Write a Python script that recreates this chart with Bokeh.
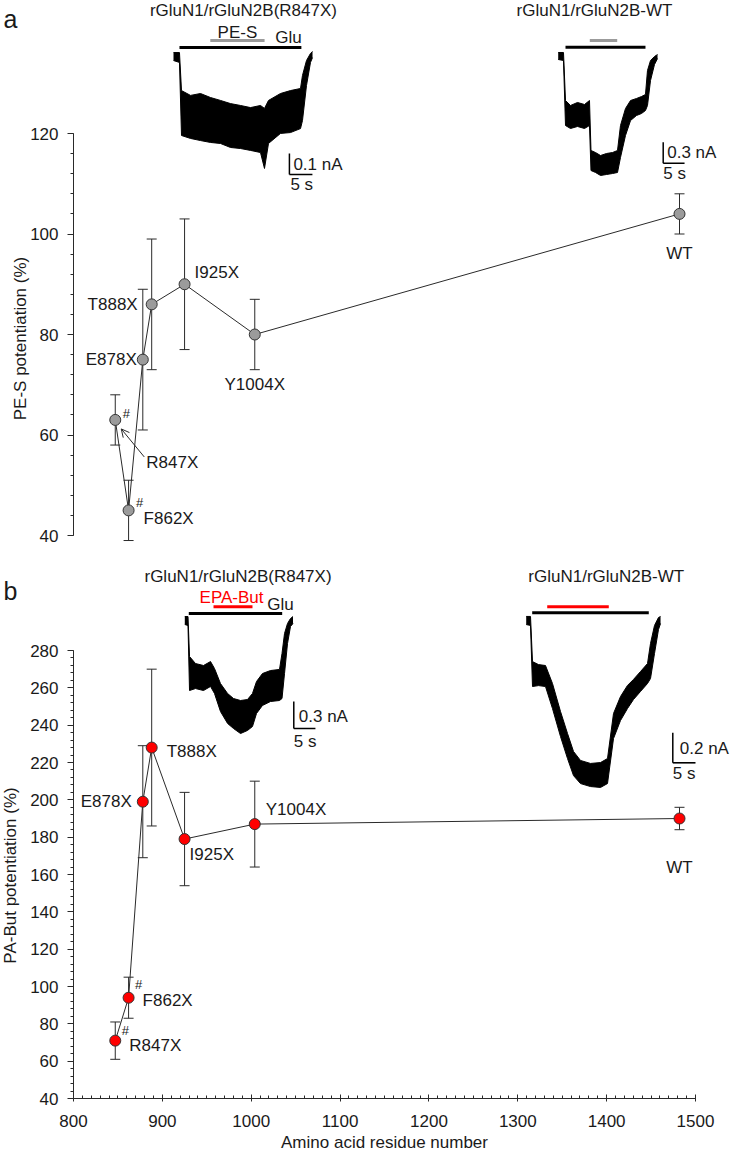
import math
from bokeh.plotting import figure
from bokeh.layouts import column
from bokeh.models import (Range1d, SingleIntervalTicker, Whisker, TeeHead, Arrow,
                          OpenHead, ColumnDataSource)
from bokeh.core.properties import value
from bokeh.embed import file_html
from bokeh.resources import INLINE

FONT = "Liberation Sans"

# ---------------- data ----------------
residue = [847, 862, 878, 888, 925, 1004, 1482]
names = ["R847X", "F862X", "E878X", "T888X", "I925X", "Y1004X", "WT"]
pes_mean = [63, 45, 75, 86, 90, 80, 104]
pes_sem = [5, 6, 14, 13, 13, 7, 4]
pab_mean = [71, 94, 199, 228, 179, 187, 190]
pab_sem = [10, 11, 30, 42, 25, 23, 6]
signif = ["#", "#", "", "", "", "", ""]

y_ticks_a = [40, 60, 80, 100, 120]
y_ticks_b = [40, 60, 80, 100, 120, 140, 160, 180, 200, 220, 240, 260, 280]
x_ticks = [800, 900, 1000, 1100, 1200, 1300, 1400, 1500]

# current traces (envelope of the noisy recordings): time in s, current in nA
a1_t = [0, 1.30, 1.74, 3.70, 5.87, 8.04, 10.22, 12.39, 14.57, 16.74, 18.91, 19.78, 20.65,
        23.26, 25.43, 27.61, 28.04, 28.91, 29.78, 30.22]
a1_top = [0.014, 0.014, -0.167, -0.190, -0.181, -0.200, -0.214, -0.229, -0.238, -0.248,
          -0.238, -0.252, -0.214, -0.181, -0.167, -0.157, -0.095, -0.024, 0.010, 0.019]
a1_bot = [-0.024, -0.033, -0.381, -0.395, -0.405, -0.414, -0.419, -0.438, -0.443, -0.452,
          -0.462, -0.538, -0.419, -0.371, -0.367, -0.348, -0.310, -0.143, -0.033, -0.010]

a2_t = [0, 1.24, 1.71, 2.88, 4.52, 6.16, 7.33, 7.68, 8.74, 9.91, 11.31, 12.72, 13.89, 14.59,
        15.76, 16.94, 18.34, 19.51, 20.44, 20.91, 21.62, 22.55, 23.26]
a2_top = [0.043, 0.043, -0.643, -0.714, -0.671, -0.700, -0.643, -1.357, -1.386, -1.429,
          -1.400, -1.386, -1.357, -1.000, -0.757, -0.643, -0.614, -0.586, -0.557, -0.214,
          -0.071, -0.014, 0.014]
a2_bot = [-0.057, -0.071, -1.000, -1.043, -1.014, -1.043, -1.000, -1.643, -1.671, -1.714,
          -1.700, -1.686, -1.671, -1.457, -1.143, -0.929, -0.857, -0.829, -0.786, -0.714,
          -0.357, -0.129, -0.043]

b1_t = [0, 0.74, 1.09, 2.47, 4.32, 5.94, 6.86, 8.24, 9.88, 11.25, 12.87, 14.48, 15.63, 16.56,
        17.94, 19.79, 21.87, 22.45, 23.03, 23.72, 24.41, 24.99]
b1_top = [0.044, 0.044, -0.400, -0.478, -0.500, -0.456, -0.533, -0.700, -0.811, -0.867,
          -0.889, -0.878, -0.811, -0.678, -0.589, -0.556, -0.544, -0.367, -0.144, -0.033,
          0.022, 0.044]
b1_bot = [-0.044, -0.056, -0.778, -0.756, -0.778, -0.733, -0.811, -1.011, -1.144, -1.200,
          -1.256, -1.222, -1.178, -1.033, -0.944, -0.900, -0.889, -0.867, -0.589, -0.256,
          -0.067, -0.033]

b2_t = [0, 0.95, 1.39, 2.71, 4.25, 5.79, 7.56, 9.10, 10.42, 11.96, 14.16, 16.37, 17.91,
        19.23, 20.77, 22.31, 23.63, 25.18, 26.72, 27.38, 28.26, 29.14, 29.59]
b2_top = [0.025, 0.025, -0.276, -0.296, -0.302, -0.422, -0.609, -0.755, -0.875, -0.935,
          -0.955, -0.949, -0.922, -0.622, -0.509, -0.435, -0.395, -0.342, -0.289, -0.155,
          -0.035, 0.018, 0.025]
b2_bot = [-0.029, -0.035, -0.442, -0.436, -0.442, -0.589, -0.776, -0.922, -1.036, -1.089,
          -1.109, -1.115, -1.089, -0.789, -0.669, -0.589, -0.529, -0.475, -0.422, -0.389,
          -0.222, -0.062, -0.022]

# application periods (s) and scale bars
a1_glu, a1_drug = (1.30, 27.8), (8.0, 19.8)
a2_glu, a2_drug = (1.71, 20.44), (7.4, 13.82)
b1_glu, b1_drug = (0.92, 22.49), (6.63, 15.63)
b2_glu, b2_drug = (1.32, 27.0), (4.63, 18.19)
scale_nA = [0.1, 0.3, 0.3, 0.2]
scale_s = 5

# ---------------- layout constants ----------------
W = 730
AX_X = 73               # px of residue 800 (y axis position)
PX_X = 0.88857          # px per residue
X0 = 800 - AX_X / PX_X
X1 = X0 + W / PX_X
HA, HB = 545, 607
A_PPU = 5.025           # px per % (panel a)
B_PPU = 1.8667          # px per % (panel b)
A_Y120 = 133            # px of y=120 in panel a
B_Y280 = 105            # px of y=280 in panel b
TXT = "#1a1a1a"
LINE = "#2a2a2a"


def px_a(fx, fy):
    return 800 + (fx - AX_X) / PX_X, 120 - (fy - A_Y120) / A_PPU


def px_b(fx, fy):
    return 800 + (fx - AX_X) / PX_X, 280 - (fy - B_Y280) / B_PPU


def style_axis(ax, bounds, interval, minor, fixed):
    ax.bounds = bounds
    ax.fixed_location = fixed
    ax.ticker = SingleIntervalTicker(interval=interval, num_minor_ticks=minor)
    ax.major_label_text_font = FONT
    ax.major_label_text_font_size = "17px"
    ax.major_label_text_color = TXT
    ax.axis_line_color = LINE
    ax.major_tick_line_color = LINE
    ax.minor_tick_line_color = LINE


def style_y(p, bounds):
    ax = p.yaxis[0]
    style_axis(ax, bounds, 20, 5, 800)
    ax.major_tick_out = 6
    ax.major_tick_in = 0
    ax.minor_tick_out = 3
    ax.minor_tick_in = 0
    ax.major_label_standoff = 9


def make_fig(height, yr, xaxis):
    p = figure(width=W, height=height, x_range=Range1d(X0, X1), y_range=Range1d(*yr),
               output_backend="svg", toolbar_location=None,
               x_axis_location="below" if xaxis else None, min_border=0,
               min_border_left=0, min_border_right=0, min_border_top=0, min_border_bottom=0)
    p.outline_line_color = None
    p.grid.visible = False
    p.background_fill_color = "white"
    return p


def inset(p, name, x0, y0, pps, ppn, h):
    t0 = -x0 / pps
    p.extra_x_ranges[name] = Range1d(t0, t0 + W / pps)
    p.extra_y_ranges[name] = Range1d(-(h - y0) / ppn, y0 / ppn)


def txt(p, xy, s, size="17px", align="center", baseline="middle", angle=0.0, color=TXT,
        **kw):
    p.text(x=[xy[0]], y=[xy[1]], text=[s], angle=angle, text_align=align,
           text_baseline=baseline, text_font=value(FONT), text_font_size=size,
           text_color=color, **kw)


def draw_trace(p, name, t, top, bot, glu, glu_y, drug, drug_y, drug_color,
               corner, amp, amp_off, s_off):
    kw = dict(x_range_name=name, y_range_name=name)
    p.varea(x=t, y1=bot, y2=top, fill_color="black", **kw)
    p.line(x=t, y=top, line_color="black", line_width=1, **kw)
    p.line(x=t, y=bot, line_color="black", line_width=1, **kw)
    p.segment(x0=[glu[0]], y0=[glu_y], x1=[glu[1]], y1=[glu_y], line_color="black",
              line_width=3, **kw)
    p.segment(x0=[drug[0]], y0=[drug_y], x1=[drug[1]], y1=[drug_y], line_color=drug_color,
              line_width=3, **kw)
    cx, cy = corner
    p.segment(x0=[cx, cx], y0=[cy, cy], x1=[cx, cx + scale_s], y1=[cy + amp, cy],
              line_color="black", line_width=1.5, **kw)
    p.text(x=[cx], y=[cy], text=[f"{amp} nA"], x_offset=amp_off[0], y_offset=amp_off[1],
           text_align="left", text_baseline="middle", text_font=value(FONT),
           text_font_size="17px", text_color=TXT, **kw)
    p.text(x=[cx], y=[cy], text=[f"{scale_s} s"], x_offset=s_off[0], y_offset=s_off[1],
           text_align="left", text_baseline="middle", text_font=value(FONT),
           text_font_size="17px", text_color=TXT, **kw)


def inset_text(p, name, x, y, s, color=TXT):
    txt(p, (x, y), s, color=color, x_range_name=name, y_range_name=name)


def data_layer(p, mean, sem, fill, offsets, aligns, hash_off):
    src = ColumnDataSource(dict(x=residue, y=mean,
                                upper=[m + s for m, s in zip(mean, sem)],
                                lower=[m - s for m, s in zip(mean, sem)]))
    w = Whisker(source=src, base="x", upper="upper", lower="lower", line_color=LINE,
                line_width=1,
                upper_head=TeeHead(size=10, line_color=LINE, line_width=1),
                lower_head=TeeHead(size=10, line_color=LINE, line_width=1))
    p.add_layout(w)
    p.line(x=residue, y=mean, line_color=LINE, line_width=1)
    p.scatter(x=residue, y=mean, size=11, fill_color=fill, line_color="#333333",
              line_width=1)
    for al in ("left", "right", "center"):
        idx = [i for i, a in enumerate(aligns) if a == al]
        if not idx:
            continue
        p.text(x=[residue[i] for i in idx], y=[mean[i] for i in idx],
               text=[names[i] for i in idx],
               x_offset=[offsets[i][0] for i in idx], y_offset=[offsets[i][1] for i in idx],
               text_align=al, text_baseline="middle", text_font=value(FONT),
               text_font_size="17px", text_color=TXT)
    idx = [i for i, s in enumerate(signif) if s]
    p.text(x=[residue[i] for i in idx], y=[mean[i] for i in idx],
           text=[signif[i] for i in idx],
           x_offset=[hash_off[i][0] for i in idx], y_offset=[hash_off[i][1] for i in idx],
           text_align="center", text_baseline="middle", text_font=value(FONT),
           text_font_size="13px", text_color=TXT)


# ================= panel a =================
pa = make_fig(HA, (120 - (HA - A_Y120) / A_PPU, 120 + A_Y120 / A_PPU), False)
style_y(pa, (40, 120))

data_layer(pa, pes_mean, pes_sem, "#9b9b9b",
           offsets=[(31, 43), (15, 8), (-6, 0), (-14, 0), (10, -12), (0, 50), (0, 40)],
           aligns=["left", "left", "right", "right", "left", "center", "center"],
           hash_off=[(11, -6), (11, -8), (0, 0), (0, 0), (0, 0), (0, 0), (0, 0)])
pa.add_layout(Arrow(end=OpenHead(size=8, line_width=1, line_color=LINE),
                    x_start=residue[0] + 29 / PX_X, y_start=pes_mean[0] - 37 / A_PPU,
                    x_end=residue[0] + 6 / PX_X, y_end=pes_mean[0] - 9 / A_PPU,
                    line_width=1, line_color=LINE))

inset(pa, "a1", 173, 55, 4.6, 210, HA)
draw_trace(pa, "a1", a1_t, a1_top, a1_bot, a1_glu, 0.038, a1_drug, 0.071, "#9b9b9b",
           (25.2, -0.567), scale_nA[0], (4, -10.5), (1, 10))
inset_text(pa, "a1", 15.2, 0.214, "rGluN1/rGluN2B(R847X)")
inset_text(pa, "a1", 13.9, 0.110, "PE-S")
inset_text(pa, "a1", 25.0, 0.086, "Glu")

inset(pa, "a2", 557.7, 55, 4.27, 70, HA)
draw_trace(pa, "a2", a2_t, a2_top, a2_bot, a2_glu, 0.119, a2_drug, 0.214, "#9b9b9b",
           (24.59, -1.539), scale_nA[1], (4, -11), (0, 10))
inset_text(pa, "a2", 8.5, 0.643, "rGluN1/rGluN2B-WT")

txt(pa, px_a(19.5, 338), "PE-S potentiation (%)", angle=math.pi / 2)
txt(pa, px_a(3, 18), "a", size="25px", align="left", baseline="alphabetic")

# ================= panel b =================
pb = make_fig(HB, (280 - (HB - B_Y280) / B_PPU, 280 + B_Y280 / B_PPU), True)
style_y(pb, (40, 280))
xa = pb.xaxis[0]
style_axis(xa, (800, 1500), 100, 10, 40)
xa.major_tick_in = 4
xa.major_tick_out = 3
xa.minor_tick_in = 3
xa.minor_tick_out = 0
xa.major_label_standoff = 13

data_layer(pb, pab_mean, pab_sem, "#ff0000",
           offsets=[(14, 5), (14, 3), (-11, 0), (15, 4), (5, 15), (11, -15), (0, 49)],
           aligns=["left", "left", "right", "left", "left", "left", "center"],
           hash_off=[(10, -10), (10, -13), (0, 0), (0, 0), (0, 0), (0, 0), (0, 0)])

inset(pb, "b1", 184.3, 75, 4.33, 90, HB)
draw_trace(pb, "b1", b1_t, b1_top, b1_bot, b1_glu, 0.078, b1_drug, 0.152, "#ff0000",
           (25.17, -1.2), scale_nA[2], (5, -12), (0, 13))
inset_text(pb, "b1", 12.29, 0.489, "rGluN1/rGluN2B(R847X)")
inset_text(pb, "b1", 10.79, 0.261, "EPA-But", color="#ff0000")
inset_text(pb, "b1", 22.1, 0.178, "Glu")

inset(pb, "b2", 525.7, 74.7, 4.54, 150, HB)
draw_trace(pb, "b2", b2_t, b2_top, b2_bot, b2_glu, 0.049, b2_drug, 0.089, "#ff0000",
           (32.29, -0.951), scale_nA[3], (7, -14), (0, 11))
inset_text(pb, "b2", 17.64, 0.291, "rGluN1/rGluN2B-WT")

txt(pb, px_b(10, 330), "PA-But potentiation (%)", angle=math.pi / 2)
txt(pb, px_b(384, 597), "Amino acid residue number")
txt(pb, px_b(3, 45), "b", size="25px", align="left", baseline="alphabetic")

layout = column(pa, pb, spacing=0)
open("out.html", "w").write(file_html(layout, INLINE))
